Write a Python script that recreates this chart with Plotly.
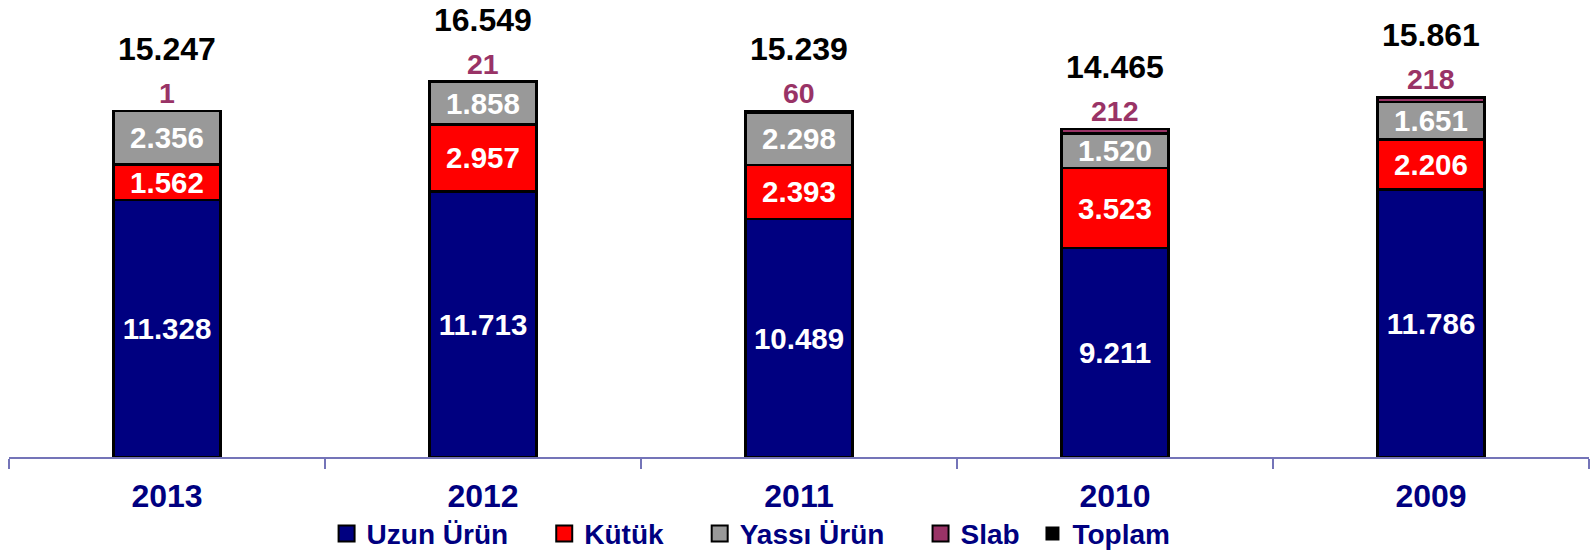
import plotly.graph_objects as go

years = ["2013", "2012", "2011", "2010", "2009"]
uzun_urun = [11328, 11713, 10489, 9211, 11786]
kutuk = [1562, 2957, 2393, 3523, 2206]
yassi_urun = [2356, 1858, 2298, 1520, 1651]
slab = [1, 21, 60, 212, 218]
toplam = [15247, 16549, 15239, 14465, 15861]


def fmt(v):
    # Turkish thousands separator
    return f"{v:,}".replace(",", ".")


FONT = "Liberation Sans, Arial, sans-serif"
NAVY = "#000080"
AXIS = "#7474B8"
NBSP = "\u00a0"

fig = go.Figure()

# name, values, colour, label inside?, extra legend padding (nbsp count)
series = [
    ("Uzun Ürün", uzun_urun, "#000080", True, 4),
    ("Kütük", kutuk, "#FF0000", True, 4),
    ("Yassı Ürün", yassi_urun, "#999999", True, 4),
    ("Slab", slab, "#993366", False, 1),
]
for name, vals, color, labelled, _ in series:
    fig.add_trace(go.Bar(
        name=name, x=years, y=vals, showlegend=False,
        marker=dict(color=color, line=dict(color="black", width=2.5)),
        text=[fmt(v) for v in vals] if labelled else None,
        textposition="inside" if labelled else "none",
        insidetextanchor="middle",
        constraintext="none",
        textfont=dict(family=FONT, size=29.5, color="white", weight="bold"),
        hoverinfo="skip",
    ))

# legend entries (bigger square symbols than the bar legend gives)
for name, _, color, _, pad in series:
    fig.add_trace(go.Scatter(
        name=name + NBSP * pad, x=[years[0]], y=[None], mode="markers",
        marker=dict(symbol="square", size=16, color=color, line=dict(color="black", width=2)),
    ))
fig.add_trace(go.Scatter(
    name="Toplam", x=[years[0]], y=[None], mode="markers",
    marker=dict(symbol="square", size=14, color="black"),
))

# on a category axis numeric-looking names would be read as indices, so use the index
for i, (tot, s) in enumerate(zip(toplam, slab)):
    fig.add_annotation(x=i, y=tot, yshift=18, text=fmt(s), showarrow=False,
                       font=dict(family=FONT, size=28.5, color="#993366", weight="bold"))
    fig.add_annotation(x=i, y=tot, yshift=62, text=fmt(tot), showarrow=False,
                       font=dict(family=FONT, size=32, color="black", weight="bold"))

fig.update_layout(
    barmode="stack", bargap=0.66,
    width=1591, height=554,
    margin=dict(l=9, r=2, t=0, b=97, autoexpand=False),
    plot_bgcolor="white", paper_bgcolor="white",
    showlegend=True,
    legend=dict(orientation="h", x=0.201, xanchor="left", y=-0.168, yanchor="middle",
                traceorder="normal", font=dict(family=FONT, size=28, color=NAVY, weight="bold"),
                itemclick=False, itemsizing="trace"),
    xaxis=dict(type="category", range=[-0.5, len(years) - 0.5], showline=True, linecolor=AXIS,
               linewidth=1.5, ticks="outside", tickson="boundaries", ticklen=10, tickcolor=AXIS,
               tickwidth=1.5, ticklabelstandoff=10,
               tickfont=dict(family=FONT, size=32, color=NAVY, weight="bold"), showgrid=False),
    yaxis=dict(visible=False, range=[0, 20150]),
)

# drop the browser's default body margin so the figure sits at the page corner
fig.write_html("out.html", config={"displayModeBar": False},
               post_script="document.body.style.margin='0';")
